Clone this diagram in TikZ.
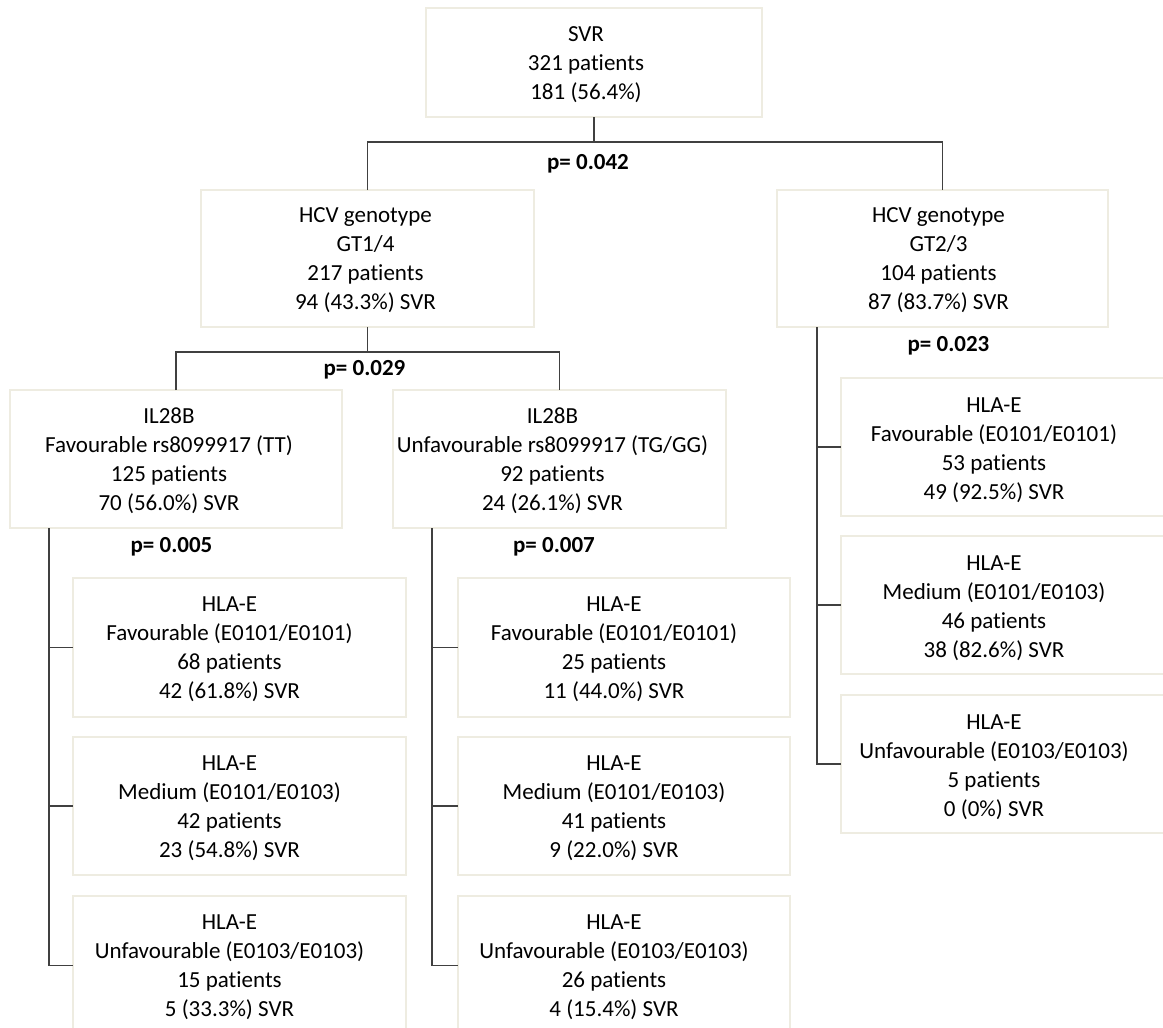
\documentclass[tikz,border=0pt]{standalone}
\usepackage{fontspec}
\setmainfont{Carlito}[Ligatures=NoCommon]
\definecolor{boxc}{HTML}{EEECE1}
\definecolor{linec}{HTML}{404040}
\begin{document}
\begin{tikzpicture}[x=1pt,y=-1pt,
  box/.style={draw=boxc, line width=1.2pt, inner sep=0pt, outer sep=0pt, rectangle},
  txt/.style={align=center, font=\fontsize{23}{29}\selectfont, inner sep=0pt},
  pval/.style={font=\fontsize{23}{29}\selectfont\bfseries, inner sep=0pt},
  conn/.style={draw=linec, line width=1.2pt}]
\clip (0,0) rectangle (1163,1028);
\fill[white] (0,0) rectangle (1163,1028);

% boxes
\node[box, minimum width=336, minimum height=109] (top) at (594,62.5) {};
\node[box, minimum width=333, minimum height=137] (gta) at (367.5,258.5) {};
\node[box, minimum width=331, minimum height=137] (gtb) at (942.5,258.5) {};
\node[box, minimum width=332, minimum height=138] (ilf) at (176,459) {};
\node[box, minimum width=333, minimum height=138] (ilu) at (559.5,459) {};
\node[box, minimum width=333, minimum height=139] (L1) at (239.5,647.5) {};
\node[box, minimum width=333, minimum height=138] (L2) at (239.5,806) {};
\node[box, minimum width=333, minimum height=139] (L3) at (239.5,965.5) {};
\node[box, minimum width=332, minimum height=139] (M1) at (624,647.5) {};
\node[box, minimum width=332, minimum height=138] (M2) at (624,806) {};
\node[box, minimum width=332, minimum height=139] (M3) at (624,965.5) {};
\node[box, minimum width=334, minimum height=138] (R1) at (1008,447) {};
\node[box, minimum width=334, minimum height=138] (R2) at (1008,605) {};
\node[box, minimum width=334, minimum height=138] (R3) at (1008,764) {};

% texts
\node[txt] (ttop) at ([xshift=-8,yshift=-2]top.center) {SVR\\321 patients\\181 (56.4\%)};
\node[txt] (tgta) at ([xshift=-2,yshift=-2]gta.center) {HCV genotype\\GT1/4\\217 patients\\94 (43.3\%) SVR};
\node[txt] (tgtb) at ([xshift=-4,yshift=-2]gtb.center) {HCV genotype\\GT2/3\\104 patients\\87 (83.7\%) SVR};
\node[txt] (tilf) at ([xshift=-7,yshift=-2]ilf.center) {IL28B\\Favourable rs8099917 (TT)\\125 patients\\70 (56.0\%) SVR};
\node[txt] (tilu) at ([xshift=-7,yshift=-2]ilu.center) {IL28B\\Unfavourable rs8099917 (TG/GG)\\92 patients\\24 (26.1\%) SVR};
\node[txt] (tL1) at ([xshift=-10,yshift=-2]L1.center) {HLA-E\\Favourable (E0101/E0101)\\68 patients\\42 (61.8\%) SVR};
\node[txt] (tL2) at ([xshift=-10,yshift=-2]L2.center) {HLA-E\\Medium (E0101/E0103)\\42 patients\\23 (54.8\%) SVR};
\node[txt] (tL3) at ([xshift=-10,yshift=-2]L3.center) {HLA-E\\Unfavourable (E0103/E0103)\\15 patients\\5 (33.3\%) SVR};
\node[txt] (tM1) at ([xshift=-10,yshift=-2]M1.center) {HLA-E\\Favourable (E0101/E0101)\\25 patients\\11 (44.0\%) SVR};
\node[txt] (tM2) at ([xshift=-10,yshift=-2]M2.center) {HLA-E\\Medium (E0101/E0103)\\41 patients\\9 (22.0\%) SVR};
\node[txt] (tM3) at ([xshift=-10,yshift=-2]M3.center) {HLA-E\\Unfavourable (E0103/E0103)\\26 patients\\4 (15.4\%) SVR};
\node[txt] (tR1) at (994,450) {HLA-E\\Favourable (E0101/E0101)\\53 patients\\49 (92.5\%) SVR};
\node[txt] (tR2) at (994,608) {HLA-E\\Medium (E0101/E0103)\\46 patients\\38 (82.6\%) SVR};
\node[txt] (tR3) at (994,767) {HLA-E\\Unfavourable (E0103/E0103)\\5 patients\\0 (0\%) SVR};

% p-values
\node[pval] (p1) at (588,164) {p= 0.042};
\node[pval] (p2) at (364.5,370) {p= 0.029};
\node[pval] (p3) at (171.5,547) {p= 0.005};
\node[pval] (p4) at (554,547) {p= 0.007};
\node[pval] (p5) at (948.5,346) {p= 0.023};

% connectors
\coordinate (j1) at (594,142);
\draw[conn] (top.south) -- (j1);
\draw[conn] (gta.north) |- (j1) -| (gtb.north);
\coordinate (j2) at (367.5,352);
\draw[conn] (gta.south) -- (j2);
\draw[conn] (ilf.north) |- (j2) -| (ilu.north);

\coordinate (a1) at (49,528);
\draw[conn] (a1) |- (L3.west);
\draw[conn] (a1 |- L1.west) -- (L1.west);
\draw[conn] (a1 |- L2.west) -- (L2.west);

\coordinate (b1) at (432,528);
\draw[conn] (b1) |- (M3.west);
\draw[conn] (b1 |- M1.west) -- (M1.west);
\draw[conn] (b1 |- M2.west) -- (M2.west);

\coordinate (c1) at (817,327);
\draw[conn] (c1) |- (R3.west);
\draw[conn] (c1 |- R1.west) -- (R1.west);
\draw[conn] (c1 |- R2.west) -- (R2.west);
\end{tikzpicture}
\end{document}
